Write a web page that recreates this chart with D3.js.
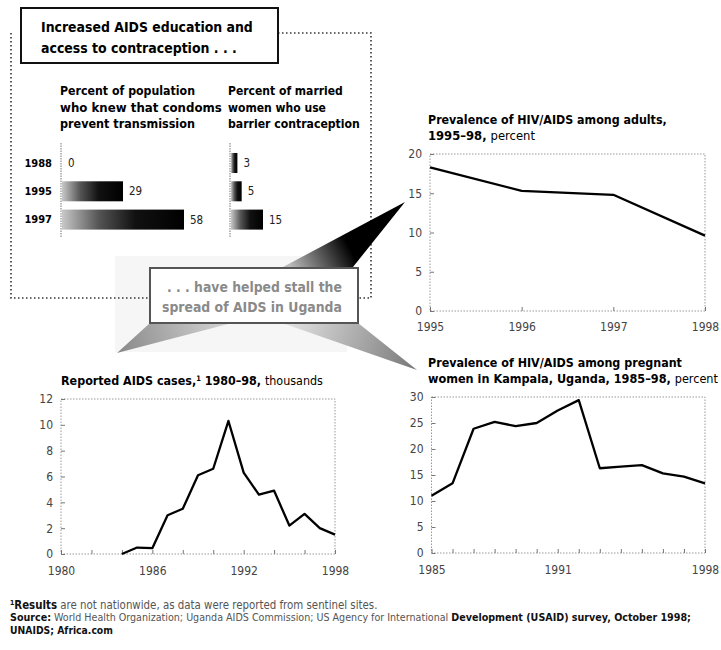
<!DOCTYPE html>
<html>
<head>
<meta charset="utf-8">
<script src="https://cdn.jsdelivr.net/npm/d3@7"></script>
<style>
    body { margin: 0; background: #fff; }
    svg text { font-family: "Liberation Sans Narrow", "DejaVu Sans Condensed", "Arial Narrow", sans-serif; }
</style>
</head>
<body>
<div id="chart"></div>
<script>
//  Bar panel data
var barYears = ["1988", "1995", "1997"];
var condomKnowledge = [0, 29, 58];
var barrierUse = [3, 5, 15];

//  Prevalence among adults
var adultYears = [1995, 1996, 1997, 1998];
var adultPrevalence = [18.3, 15.3, 14.8, 9.6];

//  Reported AIDS cases, thousands
var caseYears = [1984, 1985, 1986, 1987, 1988, 1989, 1990, 1991, 1992, 1993, 1994, 1995, 1996, 1997, 1998];
var reportedCases = [0, 0.5, 0.45, 3.0, 3.5, 6.1, 6.6, 10.3, 6.3, 4.6, 4.9, 2.2, 3.1, 2.0, 1.5];

//  Prevalence among pregnant women in Kampala
var kampalaYears = [1985, 1986, 1987, 1988, 1989, 1990, 1991, 1992, 1993, 1994, 1995, 1996, 1997, 1998];
var kampalaPrevalence = [11.0, 13.4, 23.9, 25.2, 24.4, 25.0, 27.4, 29.4, 16.3, 16.6, 16.9, 15.3, 14.7, 13.4];

//  Tick labels
var adultYTicks = [0, 5, 10, 15, 20];
var casesYTicks = [0, 2, 4, 6, 8, 10, 12];
var kampalaYTicks = [0, 5, 10, 15, 20, 25, 30];
var casesXTicks = [1980, 1982, 1984, 1986, 1988, 1990, 1992, 1994, 1996, 1998];
var casesXLabels = [1980, 1986, 1992, 1998];
var kampalaXLabels = [1985, 1991, 1998];

let width = 721;
let height = 650;

let svg = d3
    .select("#chart")
    .append("svg")
    .attr("width", width)
    .attr("height", height);

svg.append("rect").attr("width", width).attr("height", height).attr("fill", "#fff");

let defs = svg.append("defs");

// bar gradient, light on the left to black
let barGrad = defs.append("linearGradient").attr("id", "barGrad");
barGrad.append("stop").attr("offset", 0).attr("stop-color", "#c8c8c8");
barGrad.append("stop").attr("offset", 0.3).attr("stop-color", "#555");
barGrad.append("stop").attr("offset", 0.6).attr("stop-color", "#111");
barGrad.append("stop").attr("offset", 1).attr("stop-color", "#000");

// wedge gradients
function wedgeGradient(id, x1, y1, x2, y2, c1, c2) {
    let g = defs
        .append("linearGradient")
        .attr("id", id)
        .attr("gradientUnits", "userSpaceOnUse")
        .attr("x1", x1).attr("y1", y1)
        .attr("x2", x2).attr("y2", y2);
    g.append("stop").attr("offset", 0).attr("stop-color", c1);
    g.append("stop").attr("offset", 1).attr("stop-color", c2);
}
wedgeGradient("wedgeTop", 290, 266, 345, 238, "#bbb", "#000");
wedgeGradient("wedgeLeft", 230, 324, 117, 353, "#d6d6d6", "#888");
wedgeGradient("wedgeRight", 290, 324, 417, 370, "#e0e0e0", "#777");

//  Faint backdrop behind the middle box
svg.append("rect")
    .attr("x", 115).attr("y", 256)
    .attr("width", 232).attr("height", 96)
    .attr("fill", "#f6f6f6");

//  Dotted frame round the top-left panel
let frame = svg.append("g")
    .attr("fill", "none")
    .attr("stroke", "#333")
    .attr("stroke-width", 1.6)
    .attr("stroke-dasharray", "1.5,2.5");
frame.append("path").attr("d", "M11,33 V298 H150");
frame.append("path").attr("d", "M278,33 H371 V298 H358");

//  Wedges
svg.append("polygon")
    .attr("points", "283,267 353,267 405,202")
    .attr("fill", "url(#wedgeTop)");
svg.append("polygon")
    .attr("points", "150,323 232,323 117,353")
    .attr("fill", "url(#wedgeLeft)");
svg.append("polygon")
    .attr("points", "282,323 358,323 417,370")
    .attr("fill", "url(#wedgeRight)");

//  helper: one line of text, parts can be bold / normal / superscript,
//  font size is tuned so the line gets the width it has in the print
function richLine(x, y, len, parts, size, color) {
    let t = svg.append("text")
        .attr("x", x).attr("y", y)
        .attr("fill", color || "#000")
        .style("font-size", size + "px");
    parts.forEach((p) => {
        if (typeof p === "string") p = { text: p, bold: true };
        let s = t.append("tspan")
            .style("font-weight", p.bold ? "bold" : "normal")
            .text(p.text);
        if (p.fill) s.attr("fill", p.fill);
        if (p.sup) s.attr("baseline-shift", "super").style("font-size", "0.6em");
    });
    let natural = t.node().getComputedTextLength();
    if (natural > 0) t.style("font-size", (size * len / natural).toFixed(2) + "px");
    return t;
}

//  Top box
svg.append("rect")
    .attr("x", 21).attr("y", 8)
    .attr("width", 257).attr("height", 55)
    .attr("fill", "#fff")
    .attr("stroke", "#111")
    .attr("stroke-width", 2);
richLine(41, 32, 212, ["Increased AIDS education and"], 15);
richLine(41, 53, 196, ["access to contraception . . ."], 15);

//  Middle box
svg.append("rect")
    .attr("x", 150).attr("y", 268)
    .attr("width", 208).attr("height", 55)
    .attr("fill", "#fff")
    .attr("stroke", "#555")
    .attr("stroke-width", 2);
richLine(167, 292, 175, [". . . have helped stall the"], 14, "#8a8a8a");
richLine(162, 312, 180, ["spread of AIDS in Uganda"], 14, "#8a8a8a");

//  Bar panel
let yBar = d3
    .scaleBand()
    .domain(barYears)
    .range([148.75, 233.85])
    .paddingInner(0.293)
    .paddingOuter(0.15);

let xCondom = d3.scaleLinear().domain([0, 58]).range([61, 183]);
let xBarrier = d3.scaleLinear().domain([0, 15]).range([230, 262]);

function headerLines(x, lines, lens) {
    lines.forEach((l, i) => richLine(x, 95 + i * 16.5, lens[i], [l], 13));
}
headerLines(60, ["Percent of population", "who knew that condoms", "prevent transmission"], [135, 162, 135]);
headerLines(228, ["Percent of married", "women who use", "barrier contraception"], [115, 98, 132]);

svg.append("g")
    .selectAll("text")
    .data(barYears)
    .join("text")
    .attr("x", 52)
    .attr("y", (d) => yBar(d) + yBar.bandwidth() / 2)
    .attr("dy", "0.35em")
    .attr("text-anchor", "end")
    .style("font-size", "11px").style("font-weight", "bold")
    .text((d) => d);

function barGroup(values, x) {
    let g = svg.append("g");
    g.append("line")
        .attr("x1", x(0)).attr("x2", x(0))
        .attr("y1", 143).attr("y2", 238)
        .attr("stroke", "#777")
        .attr("stroke-dasharray", "1.5,1");
    g.selectAll("rect")
        .data(values)
        .join("rect")
        .attr("x", x(0) + 1)
        .attr("y", (d, i) => yBar(barYears[i]))
        .attr("width", (d) => Math.max(0, x(d) - x(0)))
        .attr("height", yBar.bandwidth())
        .style("fill", "url(#barGrad)");
    g.selectAll("text")
        .data(values)
        .join("text")
        .attr("x", (d) => x(d) + 7)
        .attr("y", (d, i) => yBar(barYears[i]) + yBar.bandwidth() / 2)
        .attr("dy", "0.35em")
        .style("font-size", "11.5px")
        .attr("fill", "#222")
        .text((d) => d);
}
barGroup(condomKnowledge, xCondom);
barGroup(barrierUse, xBarrier);

//  Line panels
function linePanel(cfg) {
    let x = d3.scaleLinear().domain(cfg.xDomain).range(cfg.xRange);
    let y = d3.scaleLinear().domain(cfg.yDomain).range(cfg.yRange);
    let g = svg.append("g");

    g.append("rect")
        .attr("x", cfg.xRange[0]).attr("y", cfg.yRange[1])
        .attr("width", cfg.xRange[1] - cfg.xRange[0])
        .attr("height", cfg.yRange[0] - cfg.yRange[1])
        .attr("fill", "none")
        .attr("stroke", "#999")
        .attr("stroke-dasharray", "1.5,1.5");

    let xAxis = (a) =>
        a
            .attr("transform", `translate(0,${cfg.yRange[0]})`)
            .call(
                d3
                    .axisBottom(x)
                    .tickValues(cfg.xTicks)
                    .tickSize(-4)
                    .tickPadding(cfg.xPad)
                    .tickFormat((d) => (cfg.xLabels.includes(d) ? d : ""))
            )
            .call((a) => a.select(".domain").remove());

    let yAxis = (a) =>
        a
            .attr("transform", `translate(${cfg.xRange[0]},0)`)
            .call(d3.axisLeft(y).tickValues(cfg.yTicks).tickSize(-4).tickPadding(8))
            .call((a) => a.select(".domain").remove());

    g.append("g").call(xAxis);
    g.append("g").call(yAxis);
    g.selectAll(".tick line").attr("stroke", "#777");
    g.selectAll(".tick text")
        .attr("fill", "#444")
        .style("font-size", "12px")
        .style("font-family", "\"Liberation Sans Narrow\", \"DejaVu Sans Condensed\", sans-serif");

    let line = d3
        .line()
        .x((d) => x(d[0]))
        .y((d) => y(d[1]));
    g.append("path")
        .datum(cfg.xs.map((v, i) => [v, cfg.ys[i]]))
        .attr("d", line)
        .attr("fill", "none")
        .attr("stroke", "#000")
        .attr("stroke-width", 2.3)
        .attr("stroke-linejoin", "round");

    cfg.title.forEach((l, i) => richLine(cfg.titleX, cfg.titleY + i * 15.5, l.len, l.parts, 13));
}

linePanel({
    xs: adultYears, ys: adultPrevalence,
    xDomain: [1995, 1998], xRange: [430, 705],
    yDomain: [0, 20], yRange: [311, 154],
    xTicks: adultYears, xLabels: adultYears, xPad: 11,
    yTicks: adultYTicks,
    titleX: 428, titleY: 124,
    title: [
        { len: 239, parts: ["Prevalence of HIV/AIDS among adults,"] },
        { len: 107, parts: ["1995–98, ", { text: "percent" }] }
    ]
});

linePanel({
    xs: caseYears, ys: reportedCases,
    xDomain: [1980, 1998], xRange: [61, 335],
    yDomain: [0, 12], yRange: [554, 399],
    xTicks: casesXTicks, xLabels: casesXLabels, xPad: 12,
    yTicks: casesYTicks,
    titleX: 61, titleY: 385,
    title: [
        { len: 262, parts: ["Reported AIDS cases,", { text: "1", bold: true, sup: true }, " 1980–98, ", { text: "thousands" }] }
    ]
});

linePanel({
    xs: kampalaYears, ys: kampalaPrevalence,
    xDomain: [1985, 1998], xRange: [431.5, 705],
    yDomain: [0, 30], yRange: [553, 397],
    xTicks: kampalaYears, xLabels: kampalaXLabels, xPad: 12,
    yTicks: kampalaYTicks,
    titleX: 428, titleY: 367,
    title: [
        { len: 254, parts: ["Prevalence of HIV/AIDS among pregnant"] },
        { len: 290, parts: ["women in Kampala, Uganda, 1985–98, ", { text: "percent" }] }
    ]
});

//  Footnotes
richLine(10, 609, 368, [
    { text: "1", bold: true, sup: true, fill: "#111" },
    { text: "Results", bold: true, fill: "#111" },
    { text: " are not nationwide, as data were reported from sentinel sites.", fill: "#555" }
], 10);
richLine(10, 621.3, 682, [
    { text: "Source:", bold: true, fill: "#111" },
    { text: " World Health Organization; Uganda AIDS Commission; US Agency for International ", fill: "#555" },
    { text: "Development (USAID) survey, October 1998;", bold: true, fill: "#111" }
], 10);
richLine(10, 633.6, 103, [{ text: "UNAIDS; Africa.com", bold: true, fill: "#111" }], 10);
</script>
</body>
</html>
